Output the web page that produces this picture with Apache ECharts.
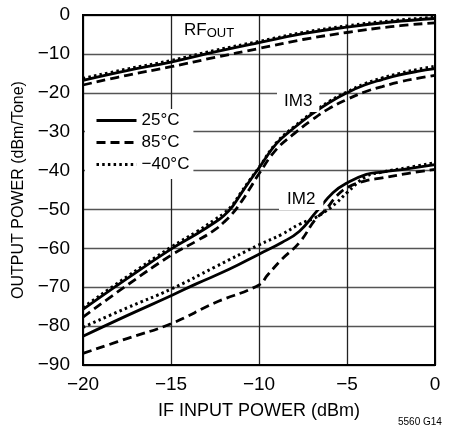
<!DOCTYPE html>
<html>
<head>
<meta charset="utf-8">
<script src="https://cdn.jsdelivr.net/npm/echarts@6/dist/echarts.min.js"></script>
<style>html,body{margin:0;padding:0;background:#fff;}#c{width:455px;height:425px;}</style>
</head>
<body>
<div id="c"></div>
<script>
// ---- data ----
var xTicks = [-20, -15, -10, -5, 0];
var yTicks = [-90, -80, -70, -60, -50, -40, -30, -20, -10, 0];
var legendNames = ['25\u00B0C', '85\u00B0C', '\u221240\u00B0C'];

var rfX     = [-20, -17.5, -15, -12.5, -10, -7.5, -5, -2.5, 0];
var rf25    = [-16.8, -14.3, -12.1, -9.5, -7.1, -4.8, -3.1, -1.8, -0.9];
var rf85    = [-18.0, -15.5, -13.3, -10.9, -8.6, -6.3, -4.5, -3.0, -2.0];
var rfM40   = [-16.3, -13.9, -11.7, -9.1, -6.8, -4.5, -2.8, -1.5, -0.6];

var im3X    = [-20, -17.5, -15, -13.5, -12.5, -12, -11.5, -11, -10.5, -10, -9, -8, -7, -6, -5, -4, -3, -2, -1, 0];
var im3_25  = [-75.7, -67.8, -60.2, -56.2, -53.3, -51.6, -49.2, -45.8, -42.5, -39.3, -33, -29, -25.5, -22.5, -20, -18, -16.6, -15.4, -14.5, -13.8];
var im3_85  = [-77.7, -69.5, -61.8, -58, -55.2, -53.3, -51, -48, -44.5, -40.8, -34.5, -30.5, -27, -24, -21.7, -19.8, -18.4, -17.2, -16.3, -15.5];
var im3_M40 = [-75.2, -67.3, -59.7, -55.6, -52.6, -51, -48.8, -45.5, -42.3, -39.2, -32.8, -28.7, -25.2, -22.2, -19.8, -17.7, -16.2, -15, -14, -13.2];

var im2X25  = [-20, -17.5, -15, -13.6, -11.7, -10, -8.7, -7.7, -6.8, -5.8, -5, -3.9, -3, -1.5, 0];
var im2_25  = [-82.6, -77.3, -72.2, -69.2, -65.4, -61.5, -58.5, -55.6, -50.9, -45.7, -43.2, -41, -40.4, -39.5, -38.5];
var im2X85  = [-20, -17.5, -15, -12.5, -10, -9.5, -8.7, -7.7, -6.8, -6.2, -5.6, -5, -4, -3, -1.5, 0];
var im2_85  = [-87, -83.2, -79.4, -74, -69.4, -66.8, -62.8, -58.5, -52.6, -50, -46.6, -44.4, -42.7, -41.9, -40.7, -39.7];
var im2XM40 = [-20, -17.5, -15, -12.5, -10, -8.7, -7.7, -6.8, -6.2, -5.6, -5, -3.9, -3, -1.5, 0];
var im2_M40 = [-80.3, -75.3, -70.5, -64.8, -59.1, -56.4, -53.8, -52.1, -50.4, -48.3, -45.7, -41.5, -40.4, -39.2, -38];

// ---- build chart ----
var FONT = '"Liberation Sans Narrow", "Liberation Sans", Arial, sans-serif';
function pairs(xs, ys) { return xs.map(function (x, i) { return [x, ys[i]]; }); }
function fmt(v) { return String(v).replace('-', '\u2212'); }

var styles = [
  { type: 'solid', width: 2.8 },
  { type: [9, 5], width: 2.8 },
  { type: [2.5, 3.2], width: 3 }
];
function mk(name, data, k) {
  return {
    name: name, type: 'line', data: data, symbol: 'none', smooth: 0.45,
    lineStyle: Object.assign({ color: '#000' }, styles[k]), itemStyle: { color: '#000' },
    silent: true, animation: false, z: 3
  };
}

var series = [
  mk(legendNames[0], pairs(rfX, rf25), 0),
  mk(legendNames[1], pairs(rfX, rf85), 1),
  mk(legendNames[2], pairs(rfX, rfM40), 2),
  mk(legendNames[0], pairs(im3X, im3_25), 0),
  mk(legendNames[1], pairs(im3X, im3_85), 1),
  mk(legendNames[2], pairs(im3X, im3_M40), 2),
  mk(legendNames[0], pairs(im2X25, im2_25), 0),
  mk(legendNames[1], pairs(im2X85, im2_85), 1),
  mk(legendNames[2], pairs(im2XM40, im2_M40), 2)
];

var chart = echarts.init(document.getElementById('c'), null, { renderer: 'canvas' });
chart.setOption({
  animation: false,
  grid: { left: 83, right: 20, top: 15, bottom: 59, show: true, borderColor: '#000', borderWidth: 2, backgroundColor: 'transparent', z: 4 },
  xAxis: {
    type: 'value', min: xTicks[0], max: xTicks[xTicks.length - 1], interval: 5,
    axisLine: { show: true, onZero: false, lineStyle: { color: '#000', width: 2 } },
    axisTick: { show: false },
    splitLine: { show: true, lineStyle: { color: '#222', width: 1.3 } },
    axisLabel: { formatter: fmt, color: '#000', fontSize: 19, fontFamily: FONT, margin: 10 },
    name: 'IF INPUT POWER (dBm)', nameLocation: 'middle', nameGap: 37,
    nameTextStyle: { color: '#000', fontSize: 18, fontFamily: FONT }
  },
  yAxis: {
    type: 'value', min: yTicks[0], max: yTicks[yTicks.length - 1], interval: 10,
    axisLine: { show: true, onZero: false, lineStyle: { color: '#000', width: 2 } },
    axisTick: { show: false },
    splitLine: { show: true, lineStyle: { color: '#555', width: 1.3 } },
    axisLabel: { formatter: fmt, color: '#000', fontSize: 19, fontFamily: FONT, margin: 13 },
    name: 'OUTPUT POWER (dBm/Tone)', nameLocation: 'middle', nameGap: 46,
    nameTextStyle: { color: '#000', fontSize: 16, fontFamily: FONT }
  },
  legend: {
    data: legendNames, orient: 'vertical', left: 85, top: 109,
    padding: [3, 4, 6, 10], itemGap: 5, itemWidth: 40, itemHeight: 14,
    backgroundColor: '#fff', z: 5, selectedMode: false,
    itemStyle: { opacity: 0 },
    lineStyle: { width: 3 },
    textStyle: { color: '#000', fontSize: 17, fontFamily: FONT, lineHeight: 16, width: 44, align: 'right' }
  },
  graphic: [
    { type: 'text', left: 184, top: 22, z: 10, style: {
        text: '{a|RF}{b|OUT}', fill: '#000',
        rich: { a: { fontSize: 17, fontFamily: FONT, fill: '#000' }, b: { fontSize: 13, fontFamily: FONT, fill: '#000', padding: [6, 0, 0, 0] } }
      } },
    { type: 'text', left: 277, top: 92, z: 10, style: {
        text: 'IM3', fontSize: 17, fontFamily: FONT, fill: '#000', backgroundColor: '#fff', padding: [1, 7, 2, 7]
      } },
    { type: 'text', left: 279, top: 190, z: 10, style: {
        text: 'IM2', fontSize: 17, fontFamily: FONT, fill: '#000', backgroundColor: '#fff', padding: [1, 8, 2, 8]
      } },
    { type: 'text', left: 398, top: 417, z: 10, style: {
        text: '5560 G14', fontSize: 10, fontFamily: FONT, fill: '#000'
      } }
  ],
  series: series
});
</script>
</body>
</html>
